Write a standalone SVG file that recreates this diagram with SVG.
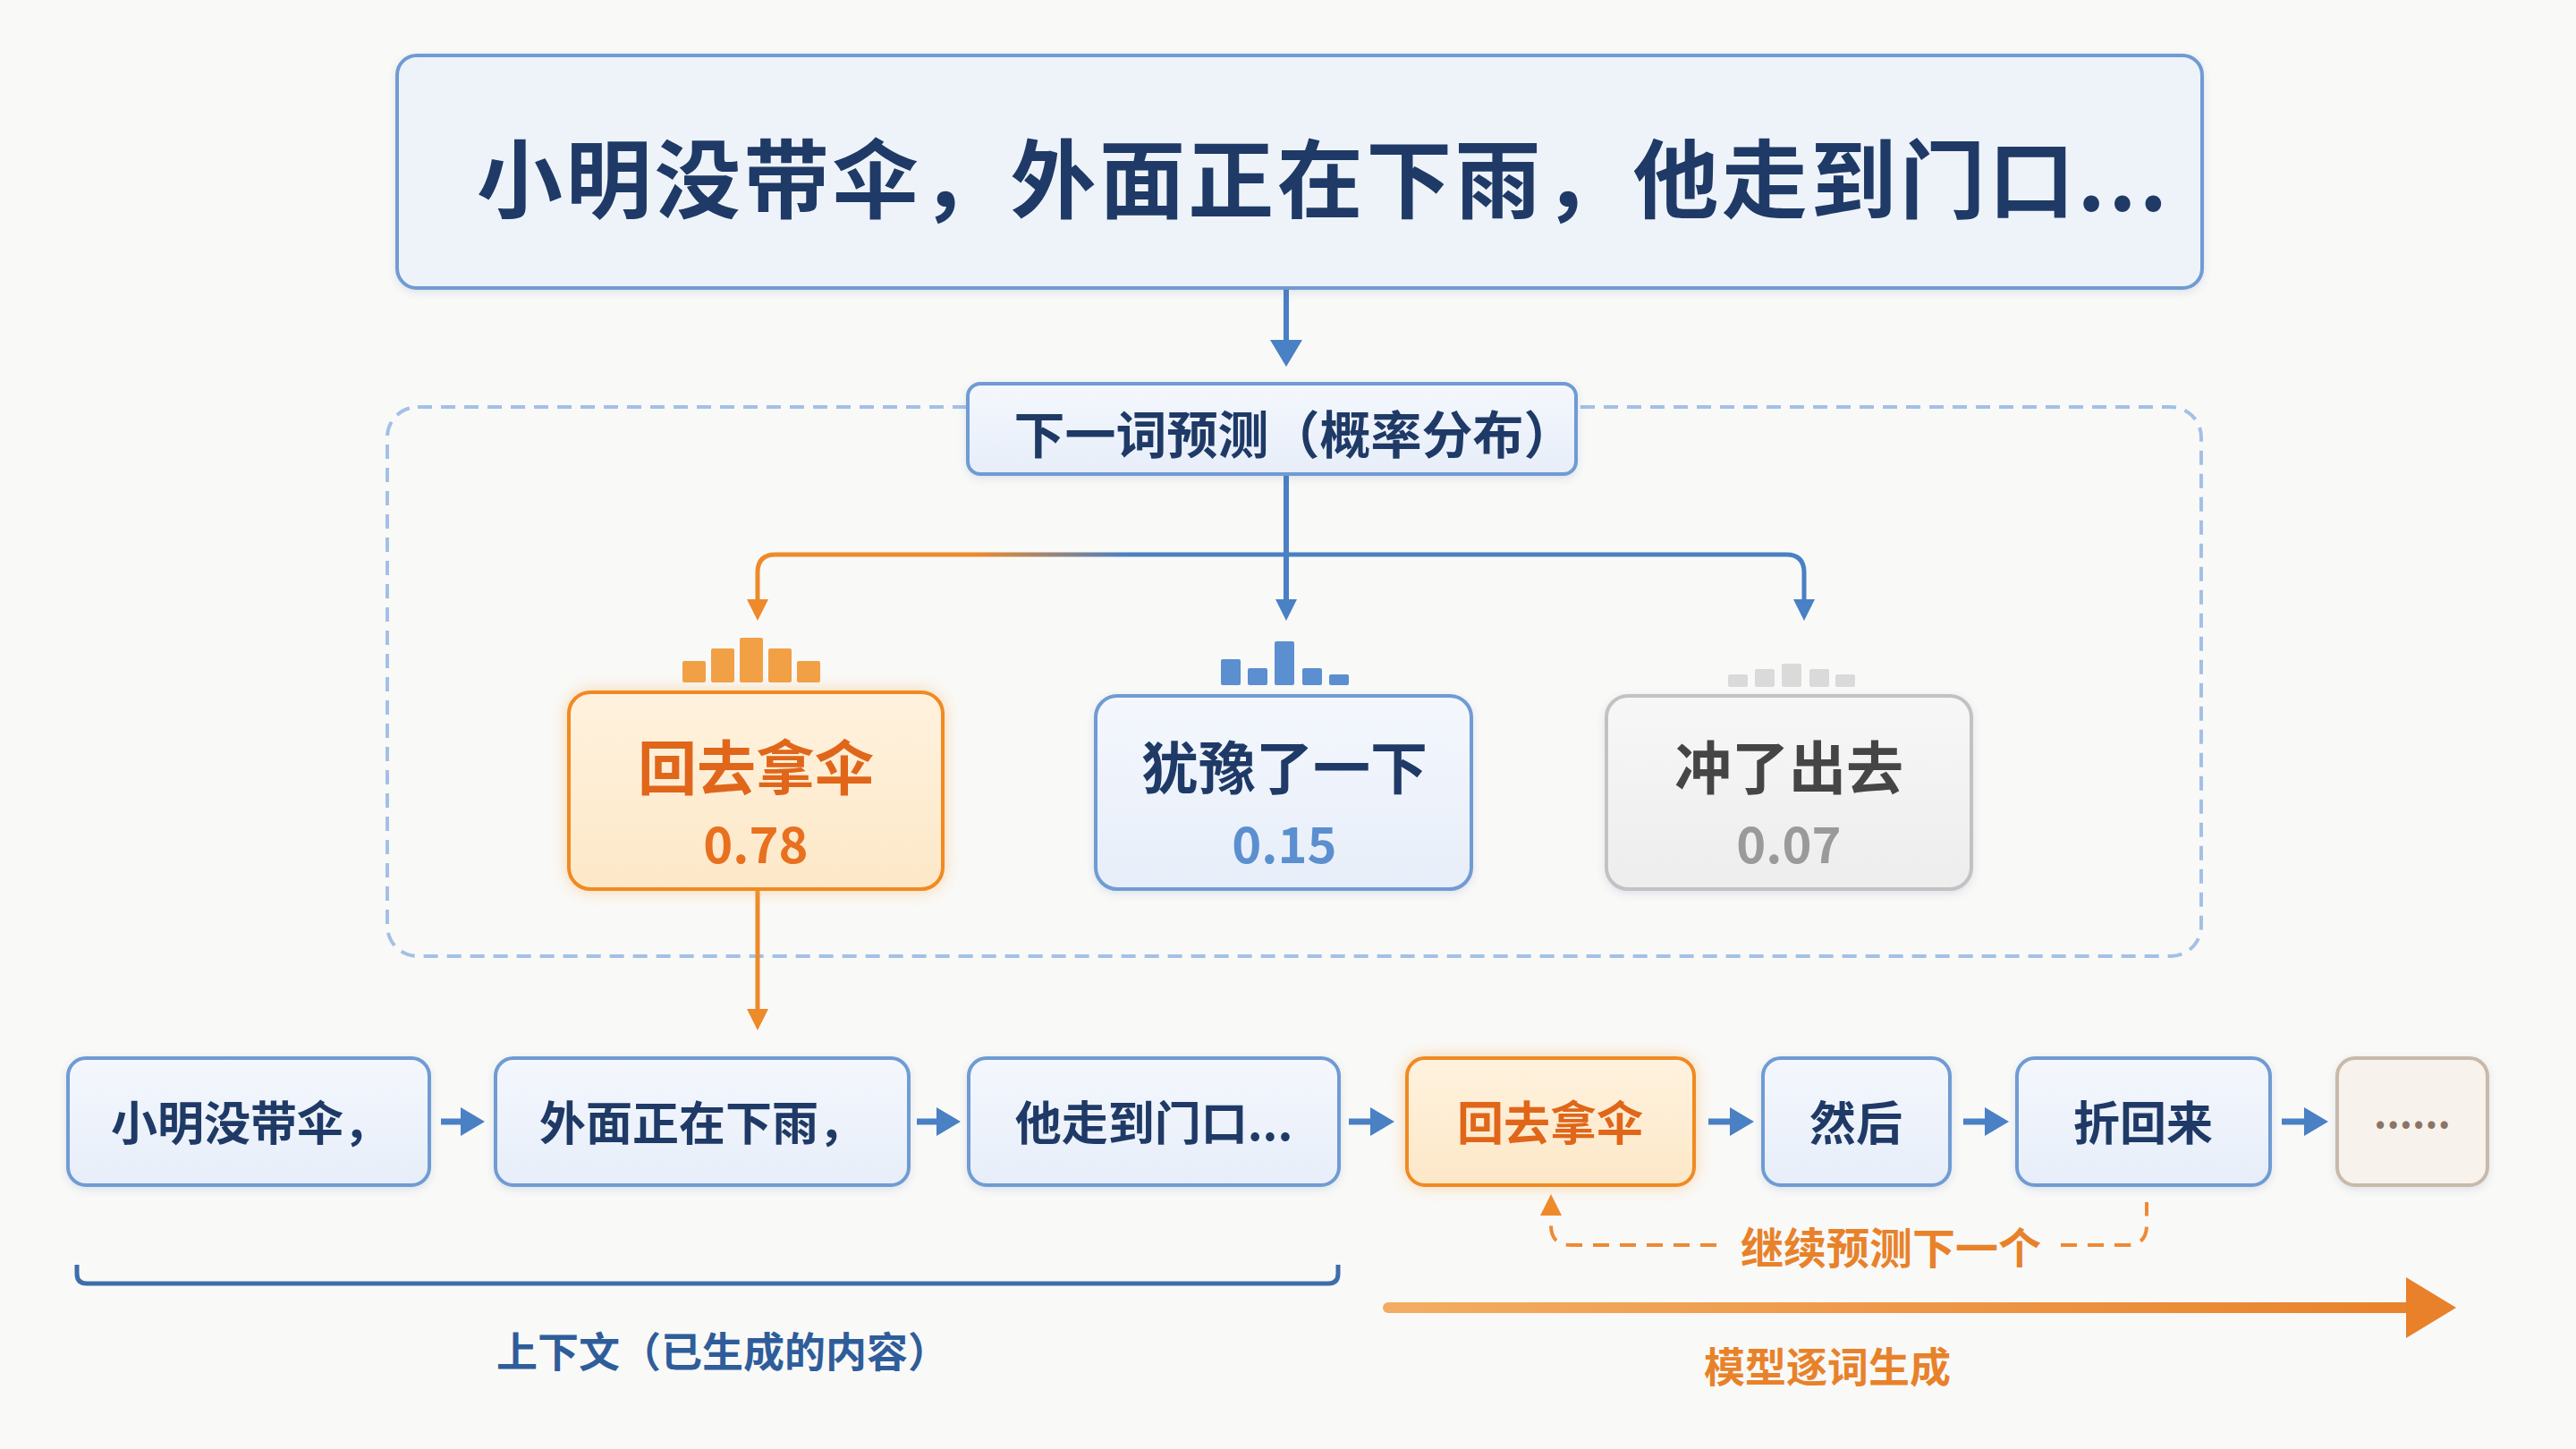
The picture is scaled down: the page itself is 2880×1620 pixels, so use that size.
<svg xmlns="http://www.w3.org/2000/svg" width="2880" height="1620" viewBox="0 0 2880 1620">
<style>
text{font-family:"Noto Sans CJK SC","Noto Sans",sans-serif;font-weight:700;dominant-baseline:central;text-anchor:middle}
.navy{fill:#1f3a66}
.bluebox{fill:url(#gBlue);stroke:#6f9bd3;stroke-width:4;filter:url(#sh)}
.orgbox{fill:url(#gOrg);stroke:#f08a24;stroke-width:4;filter:url(#glow)}
.conn{fill:none;stroke:#4a80c4;stroke-width:6}
.row{fill:none;stroke:#4a80c4;stroke-width:7}
.tok{font-size:52px}
</style>
<defs>
<linearGradient id="gBlue" x1="0" y1="0" x2="0" y2="1"><stop offset="0" stop-color="#f4f7fd"/><stop offset="1" stop-color="#e7eef9"/></linearGradient>
<linearGradient id="gOrg" x1="0" y1="0" x2="0" y2="1"><stop offset="0" stop-color="#fff2de"/><stop offset="1" stop-color="#fde8c8"/></linearGradient>
<linearGradient id="gGray" x1="0" y1="0" x2="0" y2="1"><stop offset="0" stop-color="#f7f7f7"/><stop offset="1" stop-color="#ededed"/></linearGradient>
<linearGradient id="gBranch" gradientUnits="userSpaceOnUse" x1="1090" y1="0" x2="1260" y2="0"><stop offset="0" stop-color="#ee8a2a"/><stop offset="1" stop-color="#4a80c4"/></linearGradient>
<linearGradient id="gBig" gradientUnits="userSpaceOnUse" x1="1550" y1="0" x2="2740" y2="0"><stop offset="0" stop-color="#f3ad62"/><stop offset="1" stop-color="#e8812a"/></linearGradient>
<filter id="sh" x="-10%" y="-20%" width="120%" height="140%"><feDropShadow dx="0" dy="3" stdDeviation="4" flood-color="#3a5a8a" flood-opacity="0.15"/></filter>
<filter id="glow" x="-20%" y="-30%" width="140%" height="160%"><feDropShadow dx="0" dy="0" stdDeviation="9" flood-color="#f7a645" flood-opacity="0.45"/></filter>
<marker id="mb" markerUnits="userSpaceOnUse" markerWidth="30" markerHeight="30" refX="2" refY="12" orient="auto"><path d="M0,0 L24,12 L0,24 z" fill="#4a80c4"/></marker>
<marker id="mbR" markerUnits="userSpaceOnUse" markerWidth="34" markerHeight="36" refX="3" refY="16" orient="auto"><path d="M0,0 L27,16 L0,32 z" fill="#4a80c4"/></marker>
<marker id="mbL" markerUnits="userSpaceOnUse" markerWidth="40" markerHeight="40" refX="2" refY="18" orient="auto"><path d="M0,0 L30,18 L0,36 z" fill="#4a80c4"/></marker>
<marker id="mo" markerUnits="userSpaceOnUse" markerWidth="30" markerHeight="30" refX="2" refY="12" orient="auto-start-reverse"><path d="M0,0 L24,12 L0,24 z" fill="#ee8a2a"/></marker>
</defs>
<rect width="2880" height="1620" fill="#f9f9f8"/>

<g id="context-frame">
<rect x="433" y="455" width="2028" height="614" rx="34" fill="none" stroke="#a3c0e6" stroke-width="4" stroke-dasharray="16 10"/>
</g>

<g id="connectors">
<path class="conn" d="M1438,323 V382" stroke-width="5" marker-end="url(#mbL)"/>
<path class="conn" d="M1438,531 V672" stroke-width="5" marker-end="url(#mb)"/>
<path d="M847,672 V640 Q847,620 867,620 H1997 Q2017,620 2017,640 V672" fill="none" stroke="url(#gBranch)" stroke-width="5" marker-start="url(#mo)" marker-end="url(#mb)"/>
<path d="M847,995 V1130" fill="none" stroke="#ee8a2a" stroke-width="5" marker-end="url(#mo)"/>
<path class="row" d="M493,1254 H518" marker-end="url(#mbR)"/>
<path class="row" d="M1025,1254 H1050" marker-end="url(#mbR)"/>
<path class="row" d="M1508,1254 H1535" marker-end="url(#mbR)"/>
<path class="row" d="M1910,1254 H1937" marker-end="url(#mbR)"/>
<path class="row" d="M2195,1254 H2222" marker-end="url(#mbR)"/>
<path class="row" d="M2551,1254 H2579" marker-end="url(#mbR)"/>
<path d="M1919,1392 H1756 Q1734,1392 1734,1370 V1357" fill="none" stroke="#ee8a35" stroke-width="4" stroke-dasharray="18 12" marker-end="url(#mo)"/>
<path d="M2304,1392 H2378 Q2400,1392 2400,1370 V1344" fill="none" stroke="#ee8a35" stroke-width="4" stroke-dasharray="18 12"/>
<text x="2114" y="1392" font-size="48" fill="#e8822a" font-weight="500">继续预测下一个</text>
<path d="M1552,1462 H2700" stroke="url(#gBig)" stroke-width="12" stroke-linecap="round"/>
<polygon points="2690,1428 2746,1462 2690,1496" fill="#e8812a"/>
<path d="M86,1414 V1424 Q86,1435 97,1435 H1485 Q1496,1435 1496,1424 V1414" fill="none" stroke="#3e6eaa" stroke-width="5"/>
<text x="808" y="1508" font-size="46" fill="#2f5d9a" font-weight="500">上下文（已生成的内容）</text>
<text x="2043" y="1525" font-size="46" fill="#e8822a">模型逐词生成</text>
</g>

<g id="prompt">
<rect x="444" y="62" width="2018" height="260" rx="22" fill="#eef3fa" stroke="#6f9bd3" stroke-width="4" filter="url(#sh)"/>
<text class="navy" x="1478" y="194" font-size="96" textLength="1890" lengthAdjust="spacing">小明没带伞，外面正在下雨，他走到门口...</text>
</g>

<g id="predict">
<rect x="1082" y="429" width="680" height="101" rx="14" fill="url(#gBlue)" stroke="#6f9bd3" stroke-width="4" filter="url(#sh)"/>
<text class="navy" x="1447" y="482" font-size="57">下一词预测（概率分布）</text>
</g>

<g id="cand-1">
<g fill="#f2a046">
<rect x="763" y="739" width="26" height="24" rx="2"/>
<rect x="795" y="725" width="26" height="38" rx="2"/>
<rect x="827" y="713" width="26" height="50" rx="2"/>
<rect x="859" y="725" width="26" height="38" rx="2"/>
<rect x="891" y="739" width="26" height="24" rx="2"/>
</g>
<rect class="orgbox" x="636" y="774" width="418" height="220" rx="24"/>
<text x="845" y="854" font-size="66" fill="#e0661a">回去拿伞</text>
<text x="845" y="940" font-size="56" fill="#e8701e" font-weight="500">0.78</text>
</g>

<g id="cand-2">
<g fill="#5b8fd0">
<rect x="1365" y="737" width="22" height="29" rx="2"/>
<rect x="1395" y="747" width="22" height="19" rx="2"/>
<rect x="1425" y="717" width="22" height="49" rx="2"/>
<rect x="1456" y="747" width="22" height="19" rx="2"/>
<rect x="1486" y="754" width="22" height="12" rx="2"/>
</g>
<rect class="bluebox" x="1225" y="778" width="420" height="216" rx="24"/>
<text class="navy" x="1436" y="854" font-size="64">犹豫了一下</text>
<text x="1436" y="940" font-size="56" fill="#5b8fd0" font-weight="500">0.15</text>
</g>

<g id="cand-3">
<g fill="#dadada">
<rect x="1932" y="754" width="22" height="14" rx="2"/>
<rect x="1962" y="748" width="22" height="20" rx="2"/>
<rect x="1992" y="742" width="22" height="26" rx="2"/>
<rect x="2023" y="748" width="22" height="20" rx="2"/>
<rect x="2052" y="754" width="22" height="14" rx="2"/>
</g>
<rect x="1796" y="778" width="408" height="216" rx="24" fill="url(#gGray)" stroke="#c2c2c2" stroke-width="4" filter="url(#sh)"/>
<text x="2000" y="854" font-size="64" fill="#454545">冲了出去</text>
<text x="2000" y="940" font-size="56" fill="#9a9a9a" font-weight="500">0.07</text>
</g>

<g id="tok-1">
<rect class="bluebox" x="76" y="1183" width="404" height="142" rx="20"/>
<text class="navy tok" x="280" y="1252">小明没带伞，</text>
</g>
<g id="tok-2">
<rect class="bluebox" x="554" y="1183" width="462" height="142" rx="20"/>
<text class="navy tok" x="785" y="1252">外面正在下雨，</text>
</g>
<g id="tok-3">
<rect class="bluebox" x="1083" y="1183" width="414" height="142" rx="20"/>
<text class="navy tok" x="1290" y="1252">他走到门口...</text>
</g>
<g id="tok-4">
<rect class="orgbox" x="1573" y="1183" width="321" height="142" rx="20"/>
<text class="tok" x="1733" y="1252" fill="#e0661a">回去拿伞</text>
</g>
<g id="tok-5">
<rect class="bluebox" x="1971" y="1183" width="209" height="142" rx="20"/>
<text class="navy tok" x="2075" y="1252">然后</text>
</g>
<g id="tok-6">
<rect class="bluebox" x="2255" y="1183" width="283" height="142" rx="20"/>
<text class="navy tok" x="2396" y="1252">折回来</text>
</g>
<g id="tok-7">
<rect x="2613" y="1183" width="168" height="142" rx="20" fill="#f7f2ec" stroke="#c9b9a9" stroke-width="4" filter="url(#sh)"/>
<text x="2697" y="1242" font-size="44" fill="#8a7565">......</text>
</g>
</svg>
